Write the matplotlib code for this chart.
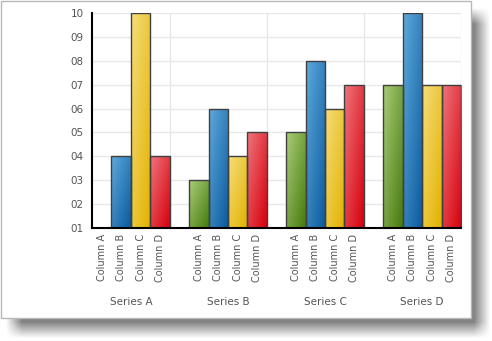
import matplotlib.pyplot as plt
import numpy as np
from matplotlib.patches import Rectangle
from matplotlib.colors import LinearSegmentedColormap

series = ["Series A", "Series B", "Series C", "Series D"]
columns = ["Column A", "Column B", "Column C", "Column D"]
col_a = [1, 3, 5, 7]
col_b = [4, 6, 8, 10]
col_c = [10, 4, 6, 7]
col_d = [4, 5, 7, 7]
y_labels = ["01", "02", "03", "04", "05", "06", "07", "08", "09", "10"]

# light (top-left) -> dark (bottom-right) per bar
shades = [("#a9cd78", "#477a0e"),
          ("#5eaadd", "#0a599c"),
          ("#f5dd7a", "#e2b200"),
          ("#ef757c", "#d6000c")]

W, H = 492, 341
fig = plt.figure(figsize=(W / 100, H / 100), dpi=100)

# soft drop shadow: blurred rectangle offset down/right from the panel
def ramp(n, lo, hi, soft):
    p = np.arange(n) + 0.5
    a = np.clip((p - lo) / soft + 0.5, 0, 1)
    b = np.clip((hi - p) / soft + 0.5, 0, 1)
    return a * b

sx = ramp(W, 14, 482, 16)
sy = ramp(H, 16, 330, 16)
mask = np.outer(sy[::-1], sx) * 0.75
shadow = np.zeros((H, W, 4))
shadow[..., :3] = 0.35
shadow[..., 3] = mask
fig.figimage(shadow, 0, 0, origin="lower", zorder=0)

fig.add_artist(Rectangle((0.5 / W, (H - 318) / H), 470 / W, 317.5 / H,
                         transform=fig.transFigure, facecolor="white",
                         edgecolor="#b8b8b8", linewidth=1, zorder=1))

ax = fig.add_axes([92 / W, 113 / H, 369 / W, 215 / H])
ax.set_zorder(2)
ax.patch.set_alpha(0)

gx, gy = np.meshgrid(np.linspace(0, 1, 32), np.linspace(1, 0, 64))
grad = 0.5 * gx + 0.5 * (1 - gy)

values = [col_a, col_b, col_c, col_d]
for c in range(4):
    xs = [g * 5 + c for g in range(4)]
    vals = np.array(values[c])
    bars = ax.bar(xs, vals - 1, bottom=1, width=1, align="edge",
                  facecolor="none", edgecolor="#404040", linewidth=1, zorder=4)
    cmap = LinearSegmentedColormap.from_list("s%d" % c, shades[c])
    for bar in bars:
        if bar.get_height() <= 0:
            continue
        x0, y0 = bar.get_x(), bar.get_y()
        im = ax.imshow(grad, cmap=cmap, aspect="auto", zorder=3, vmin=0, vmax=1,
                       extent=(x0, x0 + bar.get_width(), y0, y0 + bar.get_height()))
        im.set_clip_path(bar)

ax.set_yticks(range(1, 11))
ax.set_yticklabels(y_labels)
ax.tick_params(axis="y", length=0, pad=6, labelsize=7.5, labelcolor="#555555")
ax.set_xticks([g * 5 + c + 0.5 for g in range(4) for c in range(4)])
ax.set_xticklabels(columns * 4, rotation=90, va="top", ha="center")
ax.tick_params(axis="x", length=0, pad=4, labelsize=7, labelcolor="#555555")

for y in range(2, 11):
    ax.axhline(y, color="#e8e8e8", linewidth=1, zorder=1)
for g in range(4):
    ax.axvline(g * 5 + 4, color="#e8e8e8", linewidth=1, zorder=1)

for side in ["top", "right"]:
    ax.spines[side].set_visible(False)
for side in ["left", "bottom"]:
    ax.spines[side].set_color("black")
    ax.spines[side].set_linewidth(1.5)
    ax.spines[side].set_zorder(5)

for g, name in enumerate(series):
    ax.text(g * 5 + 2, -0.345, name, transform=ax.get_xaxis_transform(),
            ha="center", va="center", fontsize=7.5, color="#555555")

ax.set_xlim(0, 19)
ax.set_ylim(1, 10)

fig.savefig("out.png", dpi=100)
